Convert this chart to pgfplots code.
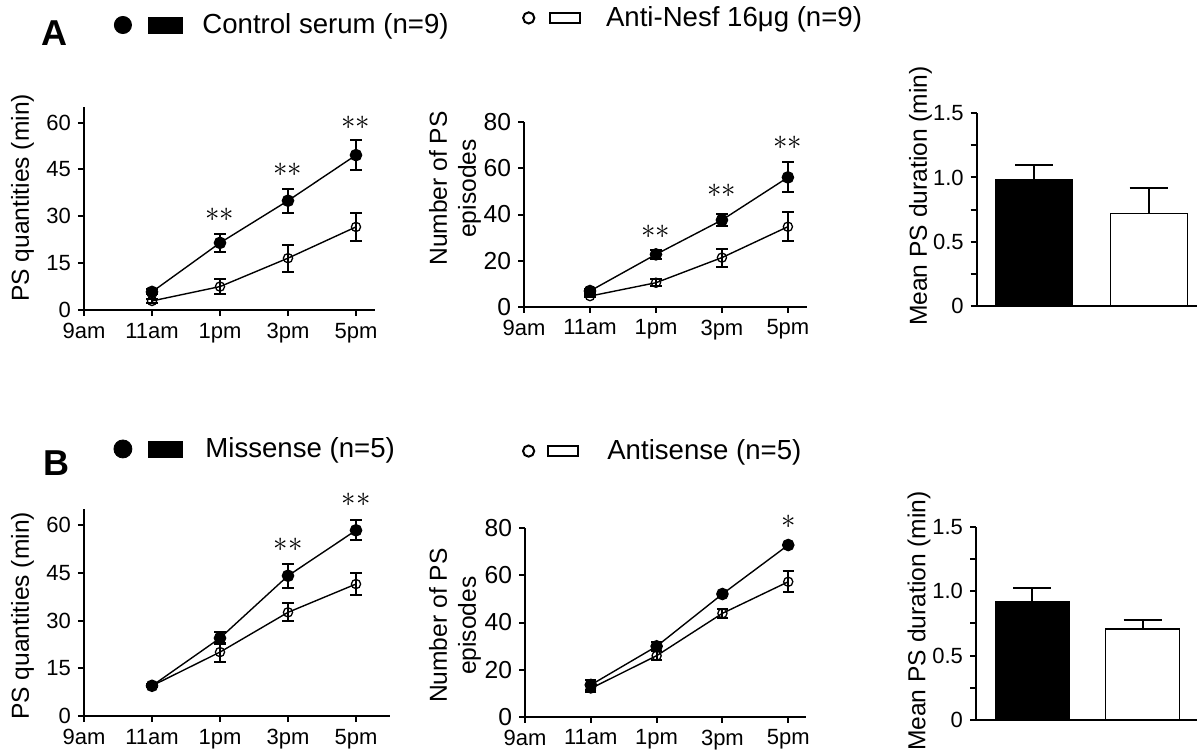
\documentclass[border=0pt]{standalone}
\usepackage{fontspec}
\setmainfont{Liberation Sans}
\usepackage{pgfplots}
\pgfplotsset{compat=1.18}

\pgfplotsset{
  panel/.style={scale only axis, anchor=south west, clip=false, enlargelimits=false,
    axis lines=left, axis line style={-, line width=1pt},
    tick align=outside, major tick length=3pt, minor tick length=3pt,
    every tick/.style={black, line width=1pt},
    tick label style={font=\fontsize{11}{13}\selectfont},
    /pgf/number format/assume math mode=true,
    label style={font=\fontsize{12.3}{14.5}\selectfont},
    ylabel style={anchor=center, align=center},
  },
  timeaxis/.style={panel, xmin=9, ymin=0, xtick={9,11,13,15,17},
    xticklabels={9am,11am,1pm,3pm,5pm}},
  bars/.style={panel, xmin=0, xmax=2.2, ymin=0, ymax=1.5, xtick=\empty,
    ytick={0,0.5,1,1.5}, yticklabels={0,0.5,1.0,1.5}, minor ytick={0.25,0.75,1.25},
    ylabel={Mean PS duration (min)}},
  errs/.style={error bars/y dir=both, error bars/y explicit,
    error bars/error bar style={line width=1pt},
    error bars/error mark options={rotate=90, mark size=2.8pt, line width=1pt}},
  ctrl/.style={black, line width=0.7pt, mark=*, mark size=2.8pt, errs},
  anti/.style={black, line width=0.7pt, mark=o, mark size=2.3pt,
    mark options={fill=white, line width=0.65pt}, errs},
  barerr/.style={error bars/y dir=plus, error bars/y explicit,
    error bars/error bar style={line width=1pt, black},
    error bars/error mark options={rotate=90, mark size=9.5pt, line width=1pt, black}},
  leg/.style={legend style={draw=none, fill=none, inner sep=0pt, anchor=west,
    font=\fontsize{13.8}{16}\selectfont, nodes={inner sep=0pt},
    /tikz/every odd column/.append style={column sep=0pt}}},
}
\newcommand{\sig}[1]{{\fontsize{15}{15}\selectfont$#1$}}

\begin{document}
\begin{tikzpicture}
\useasboundingbox (0,0) rectangle (599pt,376pt);

\node[font=\fontsize{18}{18}\selectfont\bfseries] at (27pt,359.5pt) {A};
\node[font=\fontsize{18}{18}\selectfont\bfseries] at (28pt,144.5pt) {B};

% ---- A: PS quantities
\begin{axis}[timeaxis, at={(42pt,221pt)}, width=145.5pt, height=101.5pt,
  xmax=17.56, ymax=65, ytick={0,15,30,45,60},
  ylabel={PS quantities (min)},
  ylabel style={at={(axis description cs:-0.211,0.552)}},
  leg, legend style={at={(axis description cs:0.0997,1.404)}}]
\addlegendimage{legend image code/.code={
  \fill[black] (4.75pt,0pt) circle (4.3pt);
  \fill[black] (17.5pt,-4pt) rectangle (34.5pt,4pt);
  \path[draw=none] (0pt,0pt) -- (44.5pt,0pt);}}
\addlegendentry{Control serum (n=9)}
\addplot[forget plot, ctrl] coordinates {
  (11,5.8) +- (0,0.8) (13,21.5) +- (0,2.9) (15,35.0) +- (0,3.8) (17,49.6) +- (0,4.8)};
\addplot[forget plot, anti] coordinates {
  (11,2.9) +- (0,0.5) (13,7.5) +- (0,2.4) (15,16.6) +- (0,4.3) (17,26.6) +- (0,4.6)};
\node at (axis cs:13,30.5) {\sig{\ast\ast}};
\node at (axis cs:15,45) {\sig{\ast\ast}};
\node at (axis cs:17,60) {\sig{\ast\ast}};
\end{axis}

% ---- A: number of episodes
\begin{axis}[timeaxis, at={(262pt,222.65pt)}, width=141.35pt, height=92.2pt,
  xmax=17.57, ymax=80, ytick={0,20,40,60,80},
  yticklabel style={font=\fontsize{12.3}{14}\selectfont},
  ylabel={Number of PS\\episodes},
  ylabel style={at={(axis description cs:-0.244,0.641)}},
  leg, legend style={at={(axis description cs:-0.008,1.566)}}]
\addlegendimage{legend image code/.code={
  \draw[black, line width=1pt] (3pt,0pt) circle (2.8pt);
  \draw[black, line width=1pt] (13.65pt,-2.5pt) rectangle (28.65pt,2.5pt);
  \path[draw=none] (0pt,0pt) -- (41.65pt,0pt);}}
\addlegendentry{Anti-Nesf 16μg (n=9)}
\addplot[forget plot, ctrl] coordinates {
  (11,6.8) +- (0,0.8) (13,22.7) +- (0,2.1) (15,37.6) +- (0,2.6) (17,56.1) +- (0,6.5)};
\addplot[forget plot, anti] coordinates {
  (11,4.6) +- (0,0.6) (13,10.4) +- (0,1.5) (15,21.3) +- (0,3.9) (17,34.7) +- (0,6.4)};
\node at (axis cs:13,32.5) {\sig{\ast\ast}};
\node at (axis cs:15,50.3) {\sig{\ast\ast}};
\node at (axis cs:17,70.9) {\sig{\ast\ast}};
\end{axis}

% ---- A: mean duration
\begin{axis}[bars, at={(488.35pt,223.15pt)}, width=110pt, height=96.2pt,
  ylabel style={at={(axis description cs:-0.255,0.570)}}]
\addplot[ybar, bar shift=0pt, bar width=0.77, fill=black, draw=black, line width=0.5pt, barerr]
  coordinates {(0.575,0.985) +- (0,0.115)};
\addplot[ybar, bar shift=0pt, bar width=0.77, fill=white, draw=black, line width=0.7pt, barerr]
  coordinates {(1.72,0.72) +- (0,0.198)};
\end{axis}

% ---- B: PS quantities
\begin{axis}[timeaxis, at={(42pt,18pt)}, width=153pt, height=103.35pt,
  xmax=18, ymax=65, ytick={0,15,30,45,60},
  ylabel={PS quantities (min)},
  ylabel style={at={(axis description cs:-0.201,0.484)}},
  leg, legend style={at={(axis description cs:0.0948,1.292)}}]
\addlegendimage{legend image code/.code={
  \fill[black] (4.75pt,0pt) circle (4.5pt);
  \fill[black] (17.5pt,-4pt) rectangle (34.5pt,4pt);
  \path[draw=none] (0pt,0pt) -- (46pt,0pt);}}
\addlegendentry{Missense (n=5)}
\addplot[forget plot, ctrl] coordinates {
  (11,9.5) +- (0,0.5) (13,24.5) +- (0,1.9) (15,44.1) +- (0,3.7) (17,58.4) +- (0,3.1)};
\addplot[forget plot, anti] coordinates {
  (11,9.5) +- (0,0.5) (13,20.1) +- (0,3.0) (15,32.6) +- (0,2.8) (17,41.5) +- (0,3.4)};
\node at (axis cs:15,53.9) {\sig{\ast\ast}};
\node at (axis cs:17,68) {\sig{\ast\ast}};
\end{axis}

% ---- B: number of episodes
\begin{axis}[timeaxis, at={(262.5pt,17.65pt)}, width=140.5pt, height=94.2pt,
  xmax=17.54, ymax=80, ytick={0,20,40,60,80},
  yticklabel style={font=\fontsize{12.3}{14}\selectfont},
  ylabel={Number of PS\\episodes},
  ylabel style={at={(axis description cs:-0.249,0.483)}},
  leg, legend style={at={(axis description cs:-0.012,1.410)}}]
\addlegendimage{legend image code/.code={
  \draw[black, line width=1pt] (3.3pt,0pt) circle (2.8pt);
  \draw[black, line width=1pt] (13.15pt,-2.4pt) rectangle (28.15pt,2.4pt);
  \path[draw=none] (0pt,0pt) -- (42.65pt,0pt);}}
\addlegendentry{Antisense (n=5)}
\addplot[forget plot, ctrl] coordinates {
  (11,13.5) +- (0,2.0) (13,29.9) +- (0,2.0) (15,52.1) +- (0,0.8) (17,72.9) +- (0,0.6)};
\addplot[forget plot, anti] coordinates {
  (11,12.0) +- (0,1.5) (13,25.9) +- (0,1.8) (15,43.9) +- (0,2.0) (17,57.3) +- (0,4.4)};
\node at (axis cs:17,82.8) {\sig{\ast}};
\end{axis}

% ---- B: mean duration
\begin{axis}[bars, at={(488pt,16pt)}, width=110.35pt, height=96.65pt,
  ylabel style={at={(axis description cs:-0.258,0.512)}}]
\addplot[ybar, bar shift=0pt, bar width=0.74, fill=black, draw=black, line width=0.5pt, barerr]
  coordinates {(0.56,0.923) +- (0,0.104)};
\addplot[ybar, bar shift=0pt, bar width=0.74, fill=white, draw=black, line width=0.7pt, barerr]
  coordinates {(1.66,0.706) +- (0,0.068)};
\end{axis}
\end{tikzpicture}
\end{document}
